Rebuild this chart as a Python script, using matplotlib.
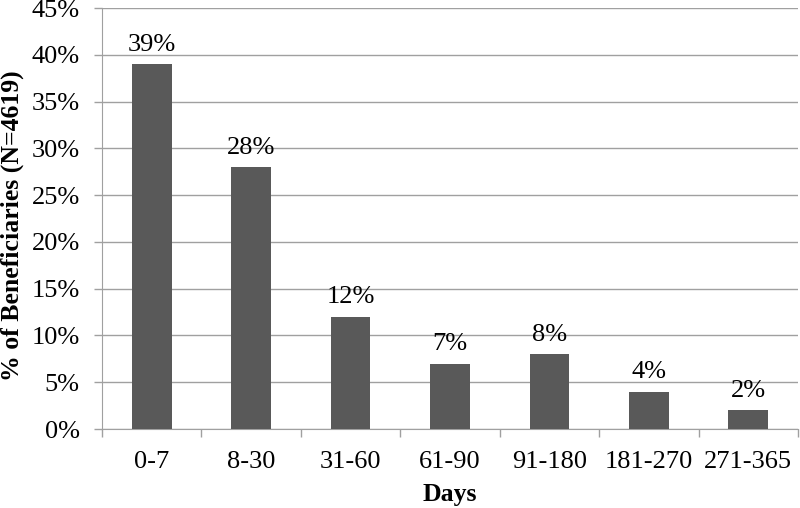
import matplotlib
matplotlib.use("Agg")
import matplotlib.pyplot as plt
import numpy as np

days = ["0-7", "8-30", "31-60", "61-90", "91-180", "181-270", "271-365"]
pct = [39, 28, 12, 7, 8, 4, 2]

plt.rcParams['font.family'] = ['Liberation Serif', 'DejaVu Serif']

fig = plt.figure(figsize=(8, 5.08), dpi=100)
ax = fig.add_axes([0.1275, 0.1555, 0.87, 0.8285])

x = np.arange(len(days))
bars = ax.bar(x, pct, width=0.4, color='#595959', zorder=3)
for b, v in zip(bars, pct):
    ax.annotate("{}%".format(v), (b.get_x() + b.get_width() / 2, v),
                xytext=(0, 6), textcoords='offset points',
                ha='center', va='bottom', fontsize=19)

gray = '#a0a0a0'
ax.set_ylim(0, 45)
ax.set_xlim(-0.5, len(days) - 0.5)
ax.set_yticks(range(0, 46, 5))
ax.set_yticklabels(["{}%".format(t) for t in range(0, 46, 5)], fontsize=19)
ax.yaxis.grid(True, color=gray, linewidth=1, zorder=0)

ax.set_xticks(x)
ax.set_xticklabels(days, fontsize=19)
ax.tick_params(axis='x', length=0, pad=16)
ax.set_xticks(np.arange(-0.5, len(days)), minor=True)
ax.tick_params(axis='x', which='minor', length=6, color=gray, width=1)
ax.tick_params(axis='y', length=6, color=gray, width=1, pad=10)

for s in ['top', 'right']:
    ax.spines[s].set_visible(False)
ax.spines['left'].set_color(gray)
ax.spines['bottom'].set_color(gray)

# axis titles placed in figure coords
fig.text(0.5625, 0.027, "Days", fontsize=18.5, fontweight='bold',
         ha='center', va='center')
fig.text(0.015, 0.555, "% of Beneficiaries (N=4619)", fontsize=18.5,
         fontweight='bold', rotation=90, ha='center', va='center')

fig.savefig("out.png", dpi=100)
